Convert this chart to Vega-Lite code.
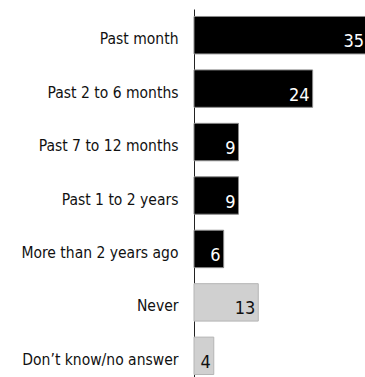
{
  "$schema": "https://vega.github.io/schema/vega-lite/v6.json",
  "autosize": "none",
  "width": 173,
  "height": 373,
  "padding": {"left": 194, "top": 9, "right": 0, "bottom": 0},
  "background": "white",
  "config": {
    "view": {"stroke": null},
    "font": "DejaVu Sans Condensed, Roboto Condensed, Liberation Sans, sans-serif"
  },
  "data": {
    "values": [
      {"when": "Past month", "pct": 35, "group": "recent"},
      {"when": "Past 2 to 6 months", "pct": 24, "group": "recent"},
      {"when": "Past 7 to 12 months", "pct": 9, "group": "recent"},
      {"when": "Past 1 to 2 years", "pct": 9, "group": "recent"},
      {"when": "More than 2 years ago", "pct": 6, "group": "recent"},
      {"when": "Never", "pct": 13, "group": "other"},
      {"when": "Don’t know/no answer", "pct": 4, "group": "other"}
    ]
  },
  "encoding": {
    "y": {
      "field": "when",
      "type": "nominal",
      "sort": null,
      "scale": {"paddingInner": 0.3, "paddingOuter": 0.14},
      "axis": {
        "title": null,
        "ticks": false,
        "tickSize": 0,
        "labelPadding": 16,
        "labelFontSize": 15.5,
        "labelColor": "#111111",
        "labelFont": "DejaVu Sans Condensed, Roboto Condensed, Liberation Sans, sans-serif",
        "labelBaseline": "alphabetic",
        "labelOffset": 9,
        "domainColor": "#222222",
        "domainWidth": 1,
        "grid": false
      }
    },
    "x": {
      "field": "pct",
      "type": "quantitative",
      "scale": {"domain": [0, 35], "nice": false},
      "axis": null
    }
  },
  "layer": [
    {
      "mark": {"type": "bar", "strokeWidth": 1},
      "encoding": {
        "color": {
          "field": "group",
          "type": "nominal",
          "scale": {"domain": ["recent", "other"], "range": ["#000000", "#d0d0d0"]},
          "legend": null
        },
        "stroke": {
          "field": "group",
          "type": "nominal",
          "scale": {"domain": ["recent", "other"], "range": ["#8a8a8a", "#b4b4b4"]},
          "legend": null
        }
      }
    },
    {
      "mark": {
        "type": "text",
        "align": "right",
        "baseline": "alphabetic",
        "dx": -3,
        "dy": 12,
        "fontSize": 18,
        "font": "DejaVu Sans Condensed, Roboto Condensed, Liberation Sans, sans-serif"
      },
      "encoding": {
        "text": {"field": "pct", "type": "quantitative"},
        "color": {
          "field": "group",
          "type": "nominal",
          "scale": {"domain": ["recent", "other"], "range": ["#ffffff", "#111111"]},
          "legend": null
        }
      }
    }
  ],
  "resolve": {"scale": {"color": "independent"}}
}
